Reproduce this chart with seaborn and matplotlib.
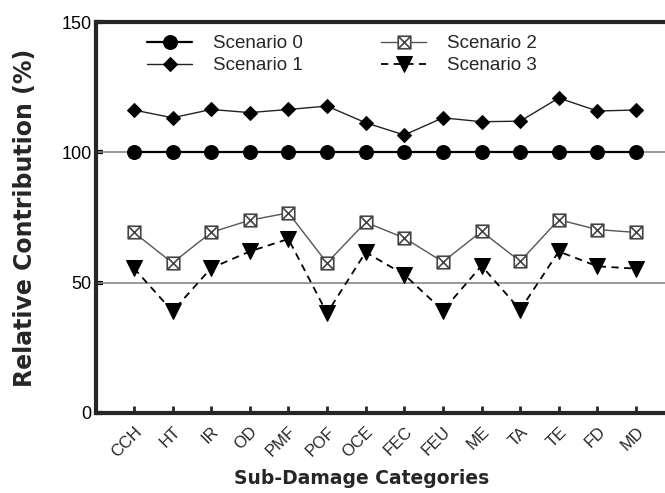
import numpy as np
import pandas as pd
import matplotlib
matplotlib.use("Agg")
import matplotlib.pyplot as plt
from matplotlib.path import Path
import seaborn as sns

categorias = ["CCH", "HT", "IR", "OD", "PMF", "POF", "OCE", "FEC", "FEU", "ME", "TA", "TE", "FD", "MD"]
cenario_0 = [100, 100, 100, 100, 100, 100, 100, 100, 100, 100, 100, 100, 100, 100]
cenario_1 = [116.3, 113.3, 116.5, 115.3, 116.5, 117.8, 111.4, 106.7, 113.3, 111.8, 112.0, 120.9, 115.9, 116.3]
cenario_2 = [69.3, 57.6, 69.3, 74.0, 76.8, 57.6, 73.2, 67.2, 58.0, 69.7, 58.2, 74.2, 70.4, 69.3]
cenario_3 = [55.6, 39.0, 55.6, 62.0, 66.8, 38.3, 61.7, 53.1, 39.3, 56.5, 39.6, 62.0, 56.3, 55.4]
rotulos_y = [0, 50, 100, 150]

sns.set_style("ticks")
plt.rcParams['font.family'] = ['Liberation Sans', 'DejaVu Sans']

#marcador quadrado com um X dentro
quadrado_x = Path([(-1, -1), (1, -1), (1, 1), (-1, 1), (-1, -1), (-1, -1), (1, 1), (-1, 1), (1, -1)],
                  [Path.MOVETO, Path.LINETO, Path.LINETO, Path.LINETO, Path.CLOSEPOLY,
                   Path.MOVETO, Path.LINETO, Path.MOVETO, Path.LINETO])

fig = plt.figure(figsize=(6.65, 4.93), dpi=100)
ax = fig.add_axes([0.1444, 0.1623, 0.8556, 0.7927])

pos = np.arange(len(categorias))
df = pd.DataFrame({'pos': pos, 'c0': cenario_0, 'c1': cenario_1, 'c2': cenario_2, 'c3': cenario_3})

ax.axhline(50, color='#888888', lw=1.2, zorder=1)
ax.axhline(100, color='#888888', lw=1.2, zorder=1)

sns.lineplot(data=df, x='pos', y='c0', ax=ax, color='black', lw=1.6, marker='o', markersize=10,
             markerfacecolor='black', markeredgecolor='black', label='Scenario 0', zorder=3)
sns.lineplot(data=df, x='pos', y='c1', ax=ax, color='#222222', lw=1.0, marker='D', markersize=7,
             markerfacecolor='black', markeredgecolor='black', label='Scenario 1', zorder=3)
sns.lineplot(data=df, x='pos', y='c2', ax=ax, color='#555555', lw=1.0, marker=quadrado_x, markersize=9,
             markerfacecolor='white', markeredgecolor='#444444', markeredgewidth=1.2,
             label='Scenario 2', zorder=3)
sns.lineplot(data=df, x='pos', y='c3', ax=ax, color='black', lw=1.3, linestyle=(0, (4, 3)), marker='v',
             markersize=12, markerfacecolor='black', markeredgecolor='black', label='Scenario 3', zorder=3)

ax.set_xlim(-0.98, 13.75)
ax.set_ylim(0, 150)
ax.set_yticks(rotulos_y)
ax.set_xticks(pos)
ax.set_xticklabels(categorias, rotation=45, ha='right', rotation_mode='anchor', fontsize=12)
ax.tick_params(axis='y', direction='in', length=5, width=3, labelsize=13, colors='black', pad=3)
ax.tick_params(axis='x', direction='in', length=5, width=2, pad=8)
for lado in ['left', 'bottom', 'top']:
    ax.spines[lado].set_linewidth(3)
ax.spines['right'].set_visible(False)
ax.grid(False)

ax.set_xlabel('Sub-Damage Categories', family='DejaVu Sans', fontweight='bold', fontsize=13.5)
ax.xaxis.set_label_coords(0.466, -0.143)
ax.set_ylabel('Relative Contribution (%)', family='DejaVu Sans', fontweight='bold', fontsize=17)
ax.yaxis.set_label_coords(-0.104, 0.5)

leg = ax.legend(ncol=2, loc='upper left', frameon=False, fontsize=13.5, handlelength=2.4,
                handletextpad=1.1, columnspacing=4.2, labelspacing=0.25,
                bbox_to_anchor=(0.06, 1.01))

fig.savefig('out.png', dpi=100)
